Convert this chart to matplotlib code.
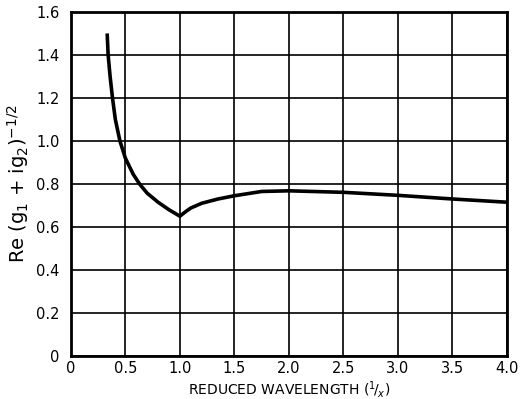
import matplotlib
matplotlib.use("Agg")
import matplotlib.pyplot as plt

# values
wavelength = [0.333, 0.342, 0.36, 0.382, 0.408, 0.45, 0.50, 0.572, 0.63,
              0.70, 0.80, 0.90, 1.00, 1.05, 1.10, 1.20, 1.35, 1.50, 1.75, 2.00,
              2.50, 3.00, 3.50, 4.00]
re_g = [1.50, 1.40, 1.30, 1.20, 1.10, 1.00, 0.92, 0.845, 0.80,
        0.757, 0.715, 0.68, 0.65, 0.67, 0.688, 0.71, 0.73, 0.745, 0.765, 0.768,
        0.761, 0.747, 0.73, 0.715]

x_ticks = [0, 0.5, 1.0, 1.5, 2.0, 2.5, 3.0, 3.5, 4.0]
x_tick_labels = ["0", "0.5", "1.0", "1.5", "2.0", "2.5", "3.0", "3.5", "4.0"]
y_ticks = [0, 0.2, 0.4, 0.6, 0.8, 1.0, 1.2, 1.4, 1.6]
y_tick_labels = ["0", "0.2", "0.4", "0.6", "0.8", "1.0", "1.2", "1.4", "1.6"]

fig = plt.figure(figsize=(5.21, 3.99), dpi=100)
ax = fig.add_axes([0.136, 0.108, 0.837, 0.862])

ax.plot(wavelength, re_g, color="black", linewidth=2.6, solid_capstyle="butt",
        solid_joinstyle="round")

ax.set_xlim(0, 4.0)
ax.set_ylim(0, 1.6)
ax.set_xticks(x_ticks)
ax.set_xticklabels(x_tick_labels)
ax.set_yticks(y_ticks)
ax.set_yticklabels(y_tick_labels)
ax.grid(True, color="black", linewidth=1.2)
ax.set_axisbelow(True)
ax.tick_params(length=0, labelsize=10.5, pad=4)
ax.tick_params(axis="y", pad=8)
for s in ax.spines.values():
    s.set_linewidth(2)

ax.set_xlabel(r"REDUCED WAVELENGTH ($^1\!/_x$)", fontsize=10, labelpad=2)
ax.set_ylabel(r"Re (g$_1$ + ig$_2$)$^{-1/2}$", fontsize=14, labelpad=4)

fig.savefig("out.png", dpi=100)
